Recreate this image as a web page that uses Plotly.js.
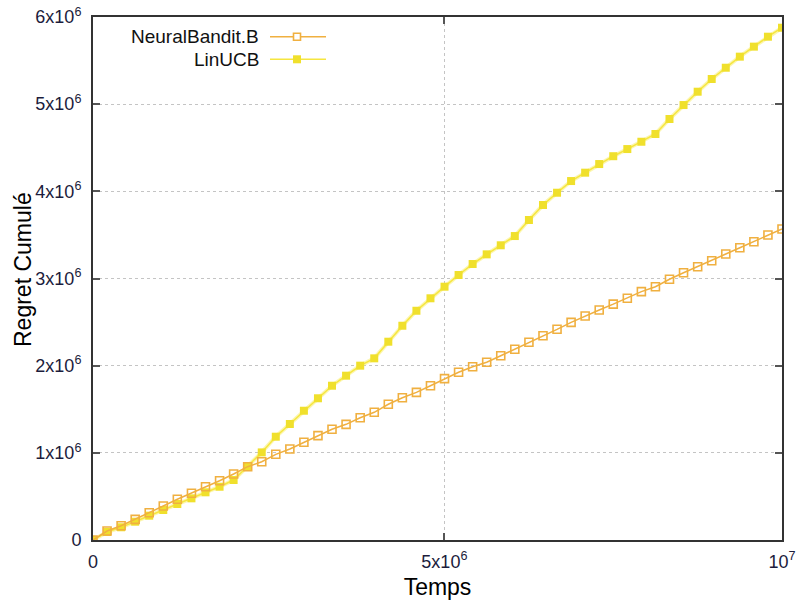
<!DOCTYPE html>
<html>
<head>
<meta charset="utf-8">
<script src="https://cdn.plot.ly/plotly-3.0.1.min.js"></script>
<style>html,body{margin:0;padding:0;background:#fff;}#chart{width:800px;height:604px;}</style>
</head>
<body>
<div id="chart"></div>
<script>
// Time in units of 10^6
const temps = [0, 0.204, 0.408, 0.612, 0.816, 1.020, 1.224, 1.429, 1.633, 1.837, 2.041, 2.245, 2.449, 2.653, 2.857, 3.061, 3.265, 3.469, 3.673, 3.878, 4.082, 4.286, 4.490, 4.694, 4.898, 5.102, 5.306, 5.510, 5.714, 5.918, 6.122, 6.327, 6.531, 6.735, 6.939, 7.143, 7.347, 7.551, 7.755, 7.959, 8.163, 8.367, 8.571, 8.776, 8.980, 9.184, 9.388, 9.592, 9.796, 10.0];
// Cumulative regret in units of 10^6
const neuralBandit = [0, 0.103, 0.164, 0.237, 0.313, 0.39, 0.467, 0.536, 0.611, 0.68, 0.757, 0.841,
  0.898, 0.983, 1.044, 1.121, 1.197, 1.27, 1.327, 1.403, 1.465, 1.557, 1.632, 1.694, 1.770,
  1.851, 1.924, 1.988, 2.039, 2.114, 2.188, 2.268, 2.344, 2.417, 2.497, 2.57, 2.639,
  2.706, 2.773, 2.849, 2.906, 2.991, 3.066, 3.135, 3.204, 3.281, 3.353, 3.422, 3.499, 3.568];
const linUCB = [0, 0.092, 0.146, 0.21, 0.279, 0.344, 0.413, 0.478, 0.547, 0.611, 0.688, 0.849,
  1.005, 1.185, 1.331, 1.483, 1.626, 1.770, 1.885, 2.000, 2.084, 2.275, 2.458, 2.630, 2.773,
  2.906, 3.04, 3.166, 3.277, 3.381, 3.487, 3.671, 3.843, 3.984, 4.118, 4.214, 4.313,
  4.403, 4.485, 4.569, 4.658, 4.83, 4.99, 5.143, 5.289, 5.418, 5.545, 5.66, 5.774, 5.877];

const seriesNames = ['NeuralBandit.B', 'LinUCB'];
const xTitle = 'Temps';
const yTitle = 'Regret Cumulé';
const xTickVals = [0, 5.1, 10];
const xTickText = ['0', '5x10<sup>6</sup>', '10<sup>7</sup>'];
const yTickVals = [0, 1, 2, 3, 4, 5, 6];
const yTickText = ['0', '1x10<sup>6</sup>', '2x10<sup>6</sup>', '3x10<sup>6</sup>', '4x10<sup>6</sup>', '5x10<sup>6</sup>', '6x10<sup>6</sup>'];

const orange = '#f0b040';
const yellow = '#f0e02c';
const fontFam = 'Liberation Sans, Arial, sans-serif';

const traces = [
  {x: temps, y: linUCB, name: seriesNames[1], mode: 'lines', line: {color: 'rgba(250,238,110,0.55)', width: 4}, hoverinfo: 'skip', showlegend: false},
  {x: temps, y: linUCB, name: seriesNames[1], mode: 'lines+markers', line: {color: '#f6e640', width: 1.5},
   marker: {symbol: 'square', size: 8, color: yellow}, showlegend: false},
  {x: temps, y: neuralBandit, name: seriesNames[0], mode: 'lines+markers', line: {color: orange, width: 1.5},
   marker: {symbol: 'square-open', size: 8, color: orange, line: {width: 1.6, color: orange}}, showlegend: false}
];

// legend (gnuplot style: text then sample) in paper coords
const px = v => (v - 93) / 689;
const py = v => (540 - v) / 523;
const rows = [36.7, 59.3];
const shapes = [];
const annotations = [];
rows.forEach((r, i) => {
  shapes.push({type: 'line', xref: 'paper', yref: 'paper', x0: px(270), x1: px(326), y0: py(r), y1: py(r),
    line: {color: i === 0 ? orange : '#f6e640', width: 1.5}});
  if (i === 0) {
    shapes.push({type: 'rect', xref: 'paper', yref: 'paper', x0: px(293.5), x1: px(300.5), y0: py(r + 3.5), y1: py(r - 3.5),
      line: {color: orange, width: 1.6}, fillcolor: 'white'});
  } else {
    shapes.push({type: 'rect', xref: 'paper', yref: 'paper', x0: px(293), x1: px(301), y0: py(r + 4), y1: py(r - 4),
      line: {color: yellow, width: 0}, fillcolor: yellow});
  }
  annotations.push({xref: 'paper', yref: 'paper', x: px(261), y: py(r), xanchor: 'right', yanchor: 'middle',
    text: seriesNames[i], showarrow: false, font: {family: fontFam, size: 19, color: '#111'}});
});
annotations.push({xref: 'paper', yref: 'paper', x: px(23), y: py(270), xanchor: 'center', yanchor: 'middle',
  textangle: -90, text: yTitle, showarrow: false, font: {family: fontFam, size: 23, color: '#000'}});

const axisCommon = {
  showline: true, linecolor: '#333', linewidth: 2, mirror: 'ticks',
  ticks: 'inside', ticklen: 7, tickwidth: 2, tickcolor: '#555',
  showgrid: true, gridcolor: '#c4c4c4', griddash: 'dot', gridwidth: 1,
  zeroline: false, tickmode: 'array',
  tickfont: {family: fontFam, size: 18, color: '#1c1c3c'}
};

const layout = {
  width: 800, height: 604,
  margin: {l: 93, r: 18, t: 17, b: 64},
  paper_bgcolor: '#fff', plot_bgcolor: '#fff',
  showlegend: false,
  xaxis: Object.assign({}, axisCommon, {range: [0, 10], tickvals: xTickVals, ticktext: xTickText, ticklabelstandoff: 4,
    title: {text: xTitle, font: {family: fontFam, size: 23, color: '#000'}, standoff: 8}}),
  yaxis: Object.assign({}, axisCommon, {range: [0, 6], tickvals: yTickVals, ticktext: yTickText, ticklabelstandoff: 6}),
  shapes: shapes,
  annotations: annotations
};

Plotly.newPlot('chart', traces, layout, {displayModeBar: false, staticPlot: true});
</script>
</body>
</html>
